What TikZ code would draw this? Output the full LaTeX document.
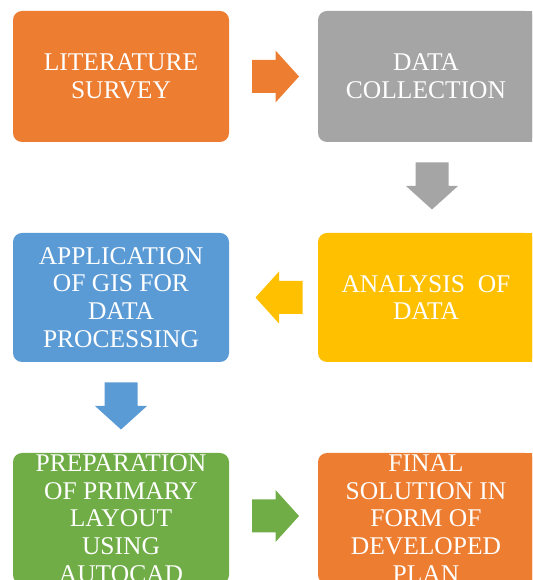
\documentclass[tikz,border=0pt]{standalone}
\usepackage{fontspec}
\setmainfont{Liberation Serif}
\usetikzlibrary{calc}

\definecolor{stepOrange}{HTML}{ED7D31}
\definecolor{stepGray}{HTML}{A5A5A5}
\definecolor{stepYellow}{HTML}{FFC000}
\definecolor{stepBlue}{HTML}{5B9BD5}
\definecolor{stepGreen}{HTML}{70AD47}

\tikzset{
  stagebox/.style={rectangle, rounded corners=9pt, draw=none, fill=#1,
    minimum width=216pt, minimum height=131pt, inner sep=0pt,
    text=white, align=center,
    font=\fontsize{25.5}{27.7}\selectfont},
  % thick block arrow pointing right in its own frame; rotate for other directions
  blockarrow/.pic={
    \fill[#1] (-23.5,-16.5) -- (0,-16.5) -- (0,-26) -- (23.5,0)
      -- (0,26) -- (0,16.5) -- (-23.5,16.5) -- cycle;
  }
}

\begin{document}
\begin{tikzpicture}[x=1pt,y=1pt]
  \useasboundingbox (0,0) rectangle (532,580);
  \clip (0,0) rectangle (532,580);

  % right-hand column runs past the page edge
  \fill[stepGray]   (426,438)  rectangle (546,569);
  \fill[stepYellow] (426,218)  rectangle (546,347);
  \fill[stepOrange] (426,-4)   rectangle (546,127);

  % process stages
  \node[stagebox=stepOrange] (lit)  at (121,503.5) {LITERATURE\\SURVEY};
  \node[stagebox=stepGray]   (coll) at (426,503.5) {DATA\\COLLECTION};
  \node[stagebox=stepBlue, minimum height=129pt]   (gis)  at (121,282.5)
    {APPLICATION\\OF GIS FOR\\DATA\\PROCESSING};
  \node[stagebox=stepYellow, minimum height=129pt] (anal) at (426,282.5)
    {ANALYSIS\ \ OF\\DATA};
  \node[stagebox=stepGreen]  (prep) at (121,61.5)
    {PREPARATION\\OF PRIMARY\\LAYOUT\\USING\\AUTOCAD};
  \node[stagebox=stepOrange] (final) at (426,61.5)
    {FINAL\\SOLUTION IN\\FORM OF\\DEVELOPED\\PLAN};

  % block arrows between stages
  \pic at ($(lit.east)!0.5!(coll.west)+(2,0)$) {blockarrow=stepOrange};
  \pic[rotate=-90] at ($(coll.south)!0.5!(anal.north)+(6,1.5)$) {blockarrow=stepGray};
  \pic[rotate=180] at ($(anal.west)!0.5!(gis.east)+(5.5,0)$) {blockarrow=stepYellow};
  \pic[rotate=-90] at ($(gis.south)!0.5!(prep.north)+(0,1.5)$) {blockarrow=stepBlue};
  \pic at ($(prep.east)!0.5!(final.west)+(2,2.5)$) {blockarrow=stepGreen};
\end{tikzpicture}
\end{document}
